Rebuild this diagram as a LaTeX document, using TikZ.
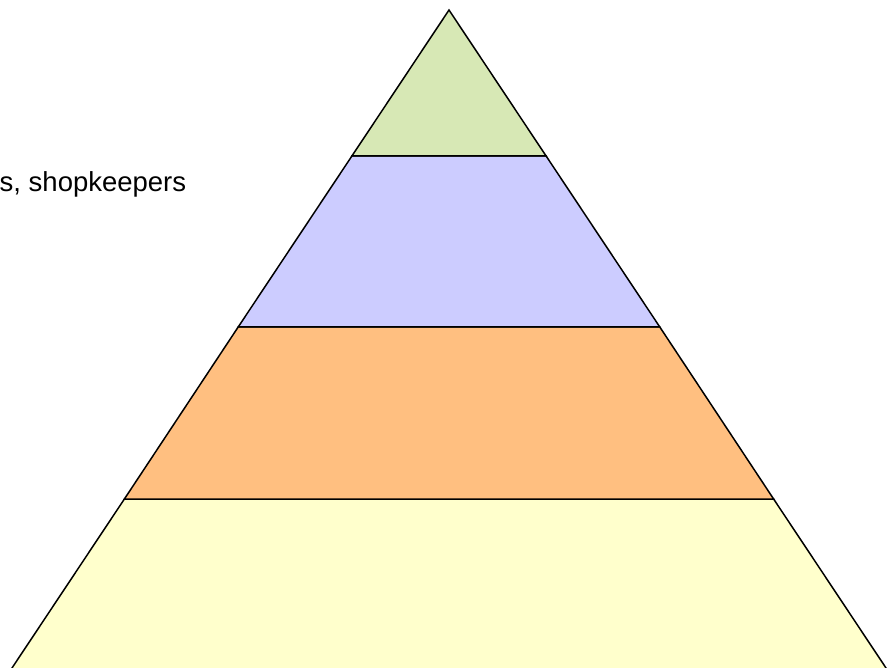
\documentclass[tikz,border=0pt]{standalone}
\usepackage{fontspec}
\setmainfont{Liberation Sans}
\definecolor{lvlA}{HTML}{D7E8B5}
\definecolor{lvlB}{HTML}{CCCCFF}
\definecolor{lvlC}{HTML}{FFBF80}
\definecolor{lvlD}{HTML}{FFFFCC}
\tikzset{layer/.style={draw=black,line width=1.5pt,line join=miter}}
\begin{document}
\begin{tikzpicture}[x=1pt,y=-1pt]
\useasboundingbox (0,0) rectangle (895,668);
\clip (0,0) rectangle (895,668);
% apex and edge points
\coordinate (apex) at (449,10);
\coordinate (l1) at (351.9,156); \coordinate (r1) at (546.1,156);
\coordinate (l2) at (238.2,327); \coordinate (r2) at (659.8,327);
\coordinate (l3) at (124.4,499); \coordinate (r3) at (773.6,499);
\coordinate (l4) at (10,671); \coordinate (r4) at (888,671);
\filldraw[layer,fill=lvlD] (l3) -- (r3) -- (r4) -- (l4) -- cycle;
\filldraw[layer,fill=lvlC] (l2) -- (r2) -- (r3) -- (l3) -- cycle;
\filldraw[layer,fill=lvlB] (l1) -- (r1) -- (r2) -- (l2) -- cycle;
\filldraw[layer,fill=lvlA] (apex) -- (r1) -- (l1) -- cycle;
\node[anchor=base west,inner sep=0pt,font=\fontsize{27.5}{32}\selectfont] (lbl) at (-0.5,192) {s, shopkeepers};
\end{tikzpicture}
\end{document}
